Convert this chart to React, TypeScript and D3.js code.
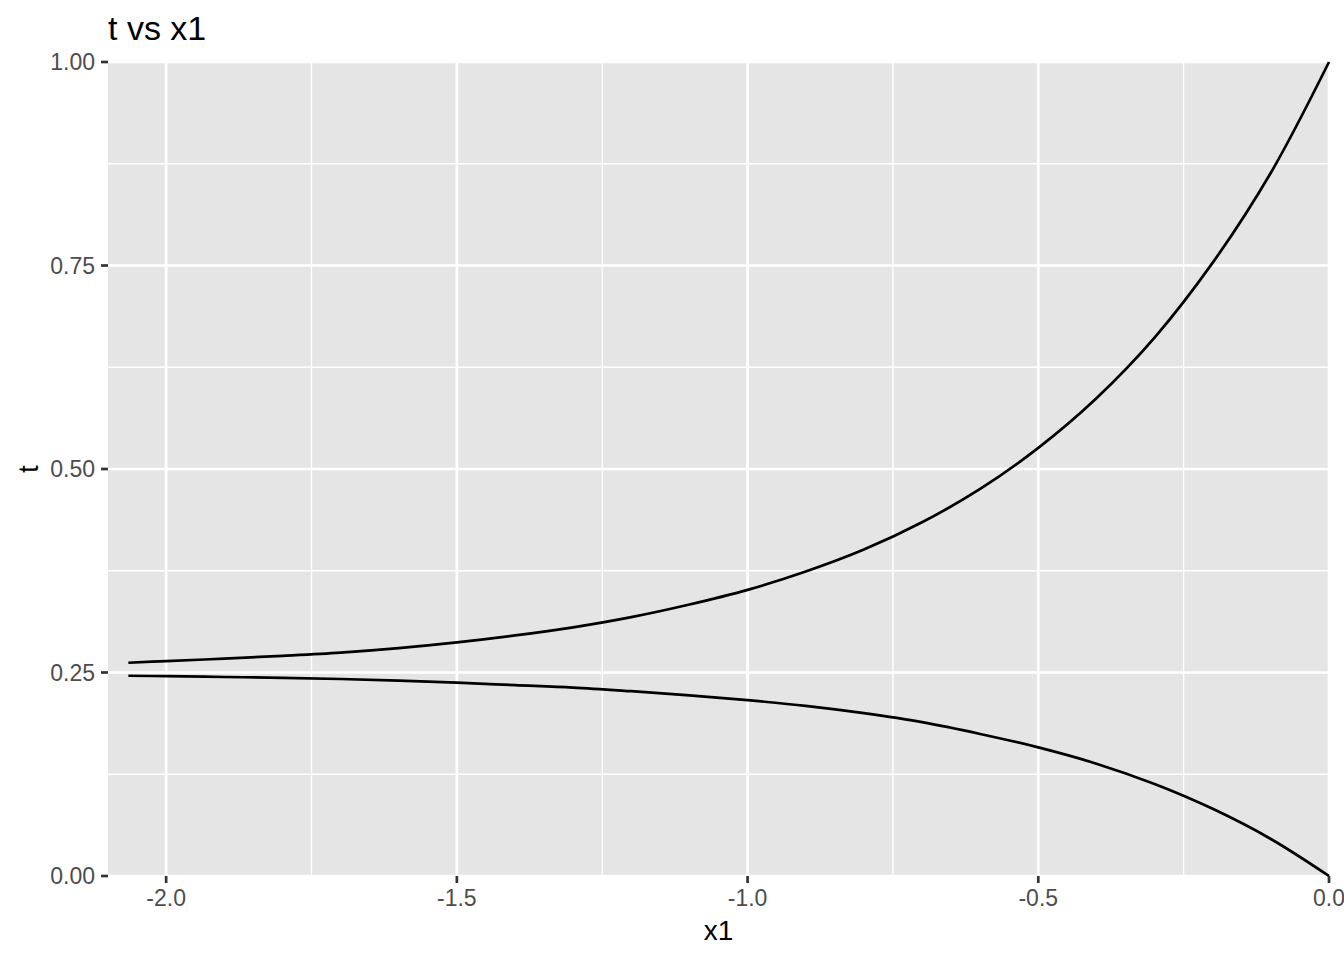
import React from "react";
import * as d3 from "d3";

const xValues = [-2.065, -2.0, -1.9, -1.8, -1.7, -1.6, -1.5, -1.4, -1.3, -1.2, -1.1, -1.0, -0.9, -0.8, -0.7, -0.6, -0.5, -0.4, -0.3, -0.2, -0.1, 0];
const upperT = [0.262, 0.264, 0.267, 0.2705, 0.2745, 0.2800, 0.2870, 0.2955, 0.3055, 0.3180, 0.3335, 0.3515, 0.3740, 0.4010, 0.4345, 0.4755, 0.5260, 0.5870, 0.6615, 0.7535, 0.8640, 1.0];
const lowerT = [0.2460, 0.2455, 0.2445, 0.2435, 0.2420, 0.2400, 0.2375, 0.2345, 0.2315, 0.2270, 0.2220, 0.2160, 0.2090, 0.2000, 0.1890, 0.1745, 0.1580, 0.1380, 0.1130, 0.0825, 0.0455, 0.0];
const xMajorTicks = [-2.0, -1.5, -1.0, -0.5, 0.0];
const xMinorTicks = [-1.75, -1.25, -0.75, -0.25];
const yMajorTicks = [0, 0.25, 0.5, 0.75, 1.0];
const yMinorTicks = [0.125, 0.375, 0.625, 0.875];
const xTickLabels = ["-2.0", "-1.5", "-1.0", "-0.5", "0.0"];
const yTickLabels = ["0.00", "0.25", "0.50", "0.75", "1.00"];
const title = "t vs x1";
const xTitle = "x1";
const yTitle = "t";

const W = 1344, H = 960;
const left = 108, right = 1329, top = 62, bottom = 876;
const font = "'Liberation Sans', Arial, Helvetica, sans-serif";

export default function App() {
  const x = d3.scaleLinear().domain([-2.1, 0]).range([left, right]);
  const y = d3.scaleLinear().domain([0, 1]).range([bottom, top]);
  const line = d3
    .line<[number, number]>()
    .x((d) => x(d[0]))
    .y((d) => y(d[1]))
    .curve(d3.curveCatmullRom.alpha(0.5));
  const up = xValues.map((v, i) => [v, upperT[i]] as [number, number]);
  const lo = xValues.map((v, i) => [v, lowerT[i]] as [number, number]);
  return (
    <svg width={W} height={H} style={{ position: "absolute", left: 0, top: 0, background: "#fff" }}>
      <rect x={left} y={top} width={right - left} height={bottom - top} fill="#E5E5E5" />
      <g stroke="#fff" fill="none">
        {xMinorTicks.map((t) => (
          <line key={"xm" + t} x1={x(t)} x2={x(t)} y1={top} y2={bottom} strokeWidth={1.35} />
        ))}
        {yMinorTicks.map((t) => (
          <line key={"ym" + t} x1={left} x2={right} y1={y(t)} y2={y(t)} strokeWidth={1.35} />
        ))}
        {xMajorTicks.map((t) => (
          <line key={"xM" + t} x1={x(t)} x2={x(t)} y1={top} y2={bottom} strokeWidth={2.7} />
        ))}
        {yMajorTicks.map((t) => (
          <line key={"yM" + t} x1={left} x2={right} y1={y(t)} y2={y(t)} strokeWidth={2.7} />
        ))}
      </g>
      <path d={line(up) || ""} fill="none" stroke="#000" strokeWidth={2.7} />
      <path d={line(lo) || ""} fill="none" stroke="#000" strokeWidth={2.7} />
      <g stroke="#333333" strokeWidth={2.7}>
        {xMajorTicks.map((t) => (
          <line key={"xt" + t} x1={x(t)} x2={x(t)} y1={bottom} y2={bottom + 7} />
        ))}
        {yMajorTicks.map((t) => (
          <line key={"yt" + t} x1={left - 7} x2={left} y1={y(t)} y2={y(t)} />
        ))}
      </g>
      <g fill="#4D4D4D" fontFamily={font} fontSize={23}>
        {xMajorTicks.map((t, i) => (
          <text key={"xl" + t} x={x(t)} y={bottom + 30} textAnchor="middle">
            {xTickLabels[i]}
          </text>
        ))}
        {yMajorTicks.map((t, i) => (
          <text key={"yl" + t} x={left - 13} y={y(t) + 8} textAnchor="end">
            {yTickLabels[i]}
          </text>
        ))}
      </g>
      <text x={(left + right) / 2} y={940} textAnchor="middle" fontFamily={font} fontSize={28} fill="#000">
        {xTitle}
      </text>
      <text
        transform={`translate(38, ${(top + bottom) / 2}) rotate(-90)`}
        textAnchor="middle"
        fontFamily={font}
        fontSize={28}
        fill="#000"
      >
        {yTitle}
      </text>
      <text x={left} y={40} fontFamily={font} fontSize={34} fill="#000">
        {title}
      </text>
    </svg>
  );
}
